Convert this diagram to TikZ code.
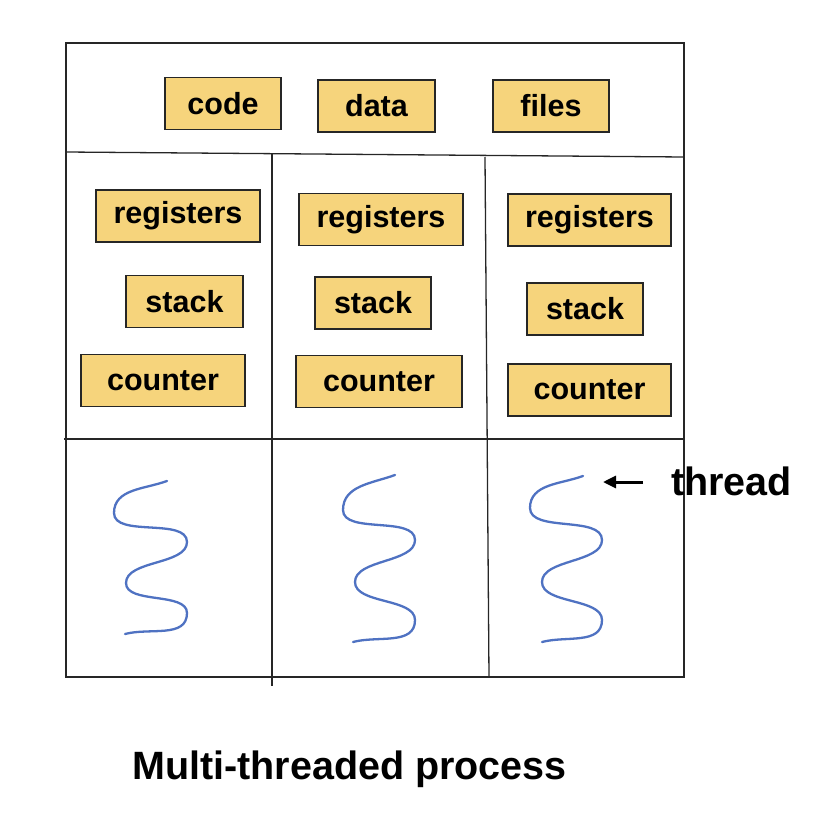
\documentclass[tikz,border=0pt]{standalone}
\usepackage{fontspec}
\setmainfont{Liberation Sans}
\usetikzlibrary{arrows.meta}
\definecolor{boxfill}{HTML}{F6D47C}
\definecolor{thr}{HTML}{4F72C2}
\begin{document}
\begin{tikzpicture}[x=1pt,y=-1pt,
  comp/.style={draw=black!85, line width=1.3pt, fill=boxfill, minimum height=52pt, inner sep=0pt, font=\fontsize{30.5}{32}\selectfont\bfseries},
  frame/.style={draw=black!85, line width=1.3pt},
  thr/.style={draw=thr, line width=2.3pt, line cap=round, looseness=0.8},
  lbl/.style={inner sep=0pt, font=\fontsize{39.5}{41}\selectfont\bfseries}]
\useasboundingbox (0,0) rectangle (840,840);
% frame
\draw[frame] (66,43) rectangle (684,677);
\draw[frame] (66,152) -- (684,157);
\draw[frame] (64,439) -- (684,439);
\draw[frame] (272,153) -- (272,686);
\draw[frame] (485,157) -- (489,677);
% shared
\node[comp, minimum width=116pt] (code) at (223,103.5) {code};
\node[comp, minimum width=117pt] (data) at (376.5,106) {data};
\node[comp, minimum width=116pt] (files) at (551,106) {files};
% thread 1
\node[comp, minimum width=164pt] (reg1) at (178,216) {registers};
\node[comp, minimum width=117pt] (stk1) at (184.5,301.5) {stack};
\node[comp, minimum width=164pt] (cnt1) at (163,380.5) {counter};
% thread 2
\node[comp, minimum width=164pt] (reg2) at (381,219.5) {registers};
\node[comp, minimum width=116pt] (stk2) at (373,303) {stack};
\node[comp, minimum width=166pt] (cnt2) at (379,381.5) {counter};
% thread 3
\node[comp, minimum width=163pt] (reg3) at (589.5,220) {registers};
\node[comp, minimum width=116pt] (stk3) at (585,309) {stack};
\node[comp, minimum width=163pt] (cnt3) at (589.5,390) {counter};
% squiggles
\draw[thr] (167,481) to[out=200,in=90,looseness=1] (114,513) to[out=-90,in=90] (187,542)
  to[out=-90,in=90] (126,583) to[out=-90,in=90] (187,613) to[out=-90,in=15,looseness=1] (125,634);
\draw[thr] (395,475) to[out=200,in=90,looseness=1] (343,510) to[out=-90,in=90] (415,540)
  to[out=-90,in=90] (355,582) to[out=-90,in=90] (415,620) to[out=-90,in=15,looseness=1] (353,642);
\draw[thr] (583,476) to[out=200,in=90,looseness=1] (530,508) to[out=-90,in=90] (602,540)
  to[out=-90,in=90] (542,582) to[out=-90,in=90] (602,620) to[out=-90,in=15,looseness=1] (542,642);
% label
\node[lbl, anchor=base west] (thread) at (671,495) {thread};
\coordinate (tail) at (643,482);
\coordinate (tip) at (603,482);
\draw[line width=3pt, -{Triangle[length=13pt,width=12pt]}] (tail) -- (tip);
% title
\node[lbl, anchor=base west] (title) at (132,779) {Multi-threaded process};
\end{tikzpicture}
\end{document}
